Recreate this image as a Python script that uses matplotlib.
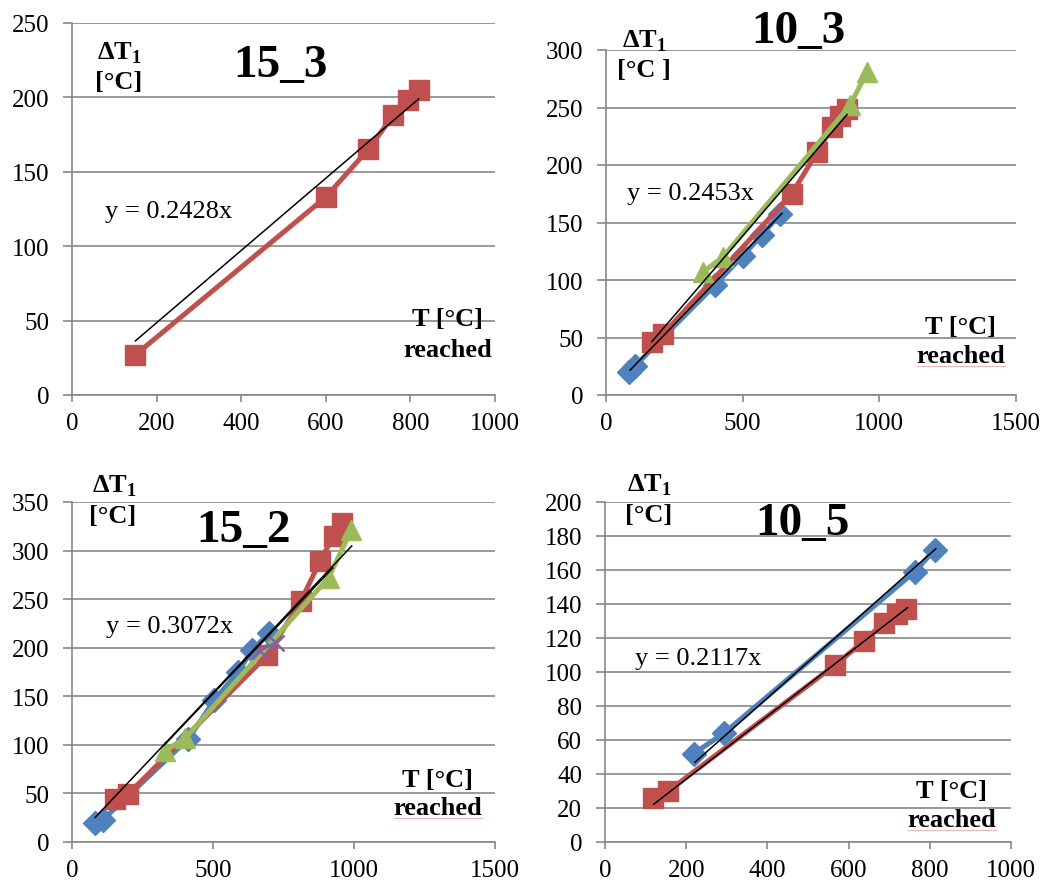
import matplotlib
matplotlib.use("Agg")
import matplotlib.pyplot as plt
from matplotlib.lines import Line2D

W, H = 1046, 887
plt.rcParams["font.family"] = ["Liberation Serif", "DejaVu Serif"]
plt.rcParams["mathtext.fontset"] = "custom"
plt.rcParams["mathtext.rm"] = "Liberation Serif"
plt.rcParams["mathtext.bf"] = "Liberation Serif:bold"

BLUE = "#4F81BD"
RED = "#C0504D"
GREEN = "#9BBB59"
PURPLE = "#8064A2"
GRID = "#878787"

# ---- 15_3 ----
t153_red = [150, 600, 700, 760, 795, 820]
d153_red = [27, 133, 165, 188, 198, 205]
k153 = 0.2428
fit153_range = [150, 820]

# ---- 10_3 ----
t103_blue = [85, 105, 400, 500, 570, 635]
d103_blue = [20, 25, 96, 121, 139, 157]
t103_red = [168, 209, 680, 772, 827, 856, 882]
d103_red = [46, 53, 175, 211, 233, 243, 249]
t103_green = [355, 428, 893, 955]
d103_green = [107, 120, 252, 281]
k103 = 0.2453
fit103_range = [88, 644]
k103_red = 0.2765
fit103_red_range = [168, 882]

# ---- 15_2 ----
t152_blue = [82, 110, 412, 505, 588, 640, 698]
d152_blue = [20, 23, 106, 146, 175, 198, 215]
t152_red = [152, 198, 692, 812, 879, 928, 958]
d152_red = [44, 49, 192, 248, 289, 315, 328]
t152_green = [330, 402, 910, 990]
d152_green = [94, 107, 272, 321]
t152_purple = [665, 722]
d152_purple = [197, 205]
k152 = 0.3072
fit152_range = [82, 992]
k152_green = 0.305
fit152_green_range = [326, 925]

# ---- 10_5 ----
t105_blue = [218, 293, 763, 812]
d105_blue = [52, 64, 159, 172]
t105_red = [118, 156, 566, 637, 686, 720, 742]
d105_red = [26, 30, 104, 118, 129, 134, 137]
k105 = 0.2117
fit105_range = [222, 815]
k105_red = 0.185
fit105_red_range = [120, 745]

fig = plt.figure(figsize=(W / 100, H / 100), dpi=100)


def rect(x0, y0, x1, y1):
    return [x0 / W, 1 - y1 / H, (x1 - x0) / W, (y1 - y0) / H]


def fx(x):
    return x / W


def fy(y):
    return 1 - y / H


def style_axes(ax, xmax, xstep, ymax, ystep):
    ax.set_xlim(0, xmax)
    ax.set_ylim(0, ymax)
    ax.set_xticks(range(0, xmax + 1, xstep))
    ax.set_yticks(range(0, ymax + 1, ystep))
    for s in ("top", "right"):
        ax.spines[s].set_visible(False)
    for s in ("left", "bottom"):
        ax.spines[s].set_color(GRID)
        ax.spines[s].set_linewidth(1.2)
    ax.yaxis.grid(True, color=GRID, linewidth=1.2)
    ax.set_axisbelow(True)
    ax.tick_params(axis="y", direction="out", length=6.5, width=1.2,
                   color=GRID, labelsize=18, pad=10)
    ax.tick_params(axis="x", direction="out", length=5, width=1.2,
                   color=GRID, labelsize=18, pad=7)
    for lab in ax.get_xticklabels() + ax.get_yticklabels():
        lab.set_fontfamily("Liberation Serif")
    ax.patch.set_alpha(0)


def series(ax, t, d, color, marker, ms, z):
    ax.plot(t, d, color=color, lw=3.6, marker=marker, ms=ms,
            mec=color, mfc=color, zorder=z, clip_on=False)


def trend(ax, k, rng):
    ax.plot(rng, [k * v for v in rng], color="black", lw=1.1, zorder=10)


def labels(x_dt, y_dt, x_c, y_c, c_text, title, x_t, y_t,
           eq, x_eq, y_eq, x_r, y_r1, y_r2, underline):
    fig.text(fx(x_dt), fy(y_dt), r"ΔT$_{\mathbf{1}}$", fontsize=19,
             fontweight="bold", va="baseline", ha="left")
    fig.text(fx(x_c), fy(y_c), c_text, fontsize=19, fontweight="bold",
             va="baseline", ha="left")
    fig.text(fx(x_t), fy(y_t), title, fontsize=34, fontweight="bold",
             va="baseline", ha="center")
    fig.text(fx(x_eq), fy(y_eq), eq, fontsize=19, va="baseline", ha="left")
    fig.text(fx(x_r), fy(y_r1), "T [°C]", fontsize=19, fontweight="bold",
             va="baseline", ha="center")
    fig.text(fx(x_r), fy(y_r2), "reached", fontsize=19, fontweight="bold",
             va="baseline", ha="center")
    if underline:
        fig.add_artist(Line2D([fx(x_r - 44), fx(x_r + 44)],
                              [fy(y_r2 + 4), fy(y_r2 + 4)],
                              color="#EDB8B8", lw=0.8))


# 15_3
ax1 = fig.add_axes(rect(72, 24, 495, 396))
style_axes(ax1, 1000, 200, 250, 50)
series(ax1, t153_red, d153_red, RED, "s", 14, 3)
trend(ax1, k153, fit153_range)
labels(97, 59, 95, 89, "[°C]", "15_3", 280, 77,
       "y = 0.2428x", 105, 218, 448, 326, 357, False)

# 10_3
ax2 = fig.add_axes(rect(606, 51, 1016, 396))
style_axes(ax2, 1500, 500, 300, 50)
series(ax2, t103_blue, d103_blue, BLUE, "D", 12, 2)
series(ax2, t103_red, d103_red, RED, "s", 14, 3)
series(ax2, t103_green, d103_green, GREEN, "^", 14, 4)
trend(ax2, k103, fit103_range)
trend(ax2, k103_red, fit103_red_range)
labels(622, 47, 617, 77, "[°C ]", "10_3", 798, 43,
       "y = 0.2453x", 627, 200, 961, 334, 363, True)

# 15_2
ax3 = fig.add_axes(rect(72, 503, 495, 843))
style_axes(ax3, 1500, 500, 350, 50)
series(ax3, t152_blue, d152_blue, BLUE, "D", 12, 2)
series(ax3, t152_red, d152_red, RED, "s", 14, 3)
series(ax3, t152_green, d152_green, GREEN, "^", 14, 4)
ax3.plot(t152_purple, d152_purple, color=PURPLE, lw=2, marker="x", ms=12,
         mew=1.8, zorder=5)
trend(ax3, k152, fit152_range)
trend(ax3, k152_green, fit152_green_range)
labels(92, 493, 89, 523, "[°C]", "15_2", 243, 542,
       "y = 0.3072x", 106, 633, 438, 787, 815, True)

# 10_5
ax4 = fig.add_axes(rect(605, 503, 1011, 843))
style_axes(ax4, 1000, 200, 200, 20)
series(ax4, t105_blue, d105_blue, BLUE, "D", 12, 3)
series(ax4, t105_red, d105_red, RED, "s", 14, 2)
trend(ax4, k105, fit105_range)
trend(ax4, k105_red, fit105_red_range)
labels(627, 492, 625, 522, "[°C]", "10_5", 802, 535,
       "y = 0.2117x", 635, 665, 952, 798, 827, True)

fig.savefig("out.png", dpi=100, facecolor="white")
